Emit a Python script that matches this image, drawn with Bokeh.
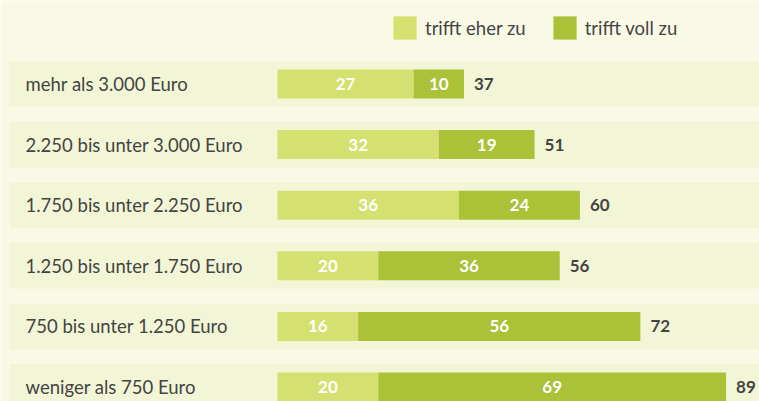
from bokeh.plotting import figure
from bokeh.models import Range1d, ColumnDataSource, Legend, LegendItem
from bokeh.core.properties import value
from bokeh.embed import file_html
from bokeh.resources import INLINE

categories = ["mehr als 3.000 Euro", "2.250 bis unter 3.000 Euro", "1.750 bis unter 2.250 Euro",
              "1.250 bis unter 1.750 Euro", "750 bis unter 1.250 Euro", "weniger als 750 Euro"]
eher = [27, 32, 36, 20, 16, 20]
voll = [10, 19, 24, 36, 56, 69]
totals = [37, 51, 60, 56, 72, 89]
series_names = ["trifft eher zu", "trifft voll zu"]

W, H = 759, 401
PX_PER_UNIT = 5.04
X0_PX = 277
ROW0_PX = 83.5
ROW_PX = 60.6

C_LIGHT = "#d4e070"
C_DARK = "#abc137"
BG = "#f9fae6"
BAND = "#f2f6d6"
TXT = "#444444"
FONT = "Lato"

x_start = -X0_PX / PX_PER_UNIT
x_end = (W - X0_PX) / PX_PER_UNIT
y_top = -ROW0_PX / ROW_PX
y_bot = (H - ROW0_PX) / ROW_PX

p = figure(width=W, height=H, output_backend="svg", toolbar_location=None,
           x_range=Range1d(x_start, x_end), y_range=Range1d(y_bot, y_top),
           min_border=0, background_fill_color=BG, border_fill_color=BG, outline_line_color=None)
p.xaxis.visible = False
p.yaxis.visible = False
p.grid.visible = False

ys = list(range(len(categories)))
band_left = x_start + 9 / PX_PER_UNIT
src = ColumnDataSource(dict(
    y=ys, cat=categories, eher=eher, voll=voll, tot=totals,
    left0=[0] * len(ys),
    ends=[e + v for e, v in zip(eher, voll)],
    mid_e=[e / 2 for e in eher],
    mid_v=[e + v / 2 for e, v in zip(eher, voll)],
    eher_s=[str(v) for v in eher], voll_s=[str(v) for v in voll], tot_s=[str(v) for v in totals],
    band_l=[band_left] * len(ys), band_r=[x_end + 5] * len(ys),
))

p.hbar(y="y", left="band_l", right="band_r", height=46 / ROW_PX, source=src,
       fill_color=BAND, line_color=None)
r1 = p.hbar(y="y", left="left0", right="eher", height=29 / ROW_PX, source=src,
            fill_color=C_LIGHT, line_color=None)
r2 = p.hbar(y="y", left="eher", right="ends", height=29 / ROW_PX, source=src,
            fill_color=C_DARK, line_color=None)

p.text(x="band_l", y="y", text="cat", source=src, x_offset=16, text_baseline="middle",
       text_align="left", text_font=value(FONT), text_font_size="18.5px", text_color=TXT)
p.text(x="mid_e", y="y", text="eher_s", source=src, text_baseline="middle", text_align="center",
       text_font=value(FONT), text_font_size="17px", text_font_style="bold", text_color="white")
p.text(x="mid_v", y="y", text="voll_s", source=src, text_baseline="middle", text_align="center",
       text_font=value(FONT), text_font_size="17px", text_font_style="bold", text_color="white")
p.text(x="ends", y="y", text="tot_s", source=src, x_offset=10, text_baseline="middle",
       text_align="left", text_font=value(FONT), text_font_size="17px", text_font_style="bold",
       text_color=TXT)

legend = Legend(items=[LegendItem(label=series_names[0], renderers=[r1]),
                       LegendItem(label=series_names[1], renderers=[r2])],
                orientation="horizontal", location=(390, H - 42),
                glyph_width=29, glyph_height=29, label_standoff=6, spacing=24,
                padding=0, margin=0, background_fill_alpha=0, border_line_color=None,
                label_text_font=FONT, label_text_font_size="18.5px", label_text_color=TXT,
                label_height=29, label_text_baseline="middle")
p.add_layout(legend, "center")

open("out.html", "w").write(file_html(p, INLINE))
